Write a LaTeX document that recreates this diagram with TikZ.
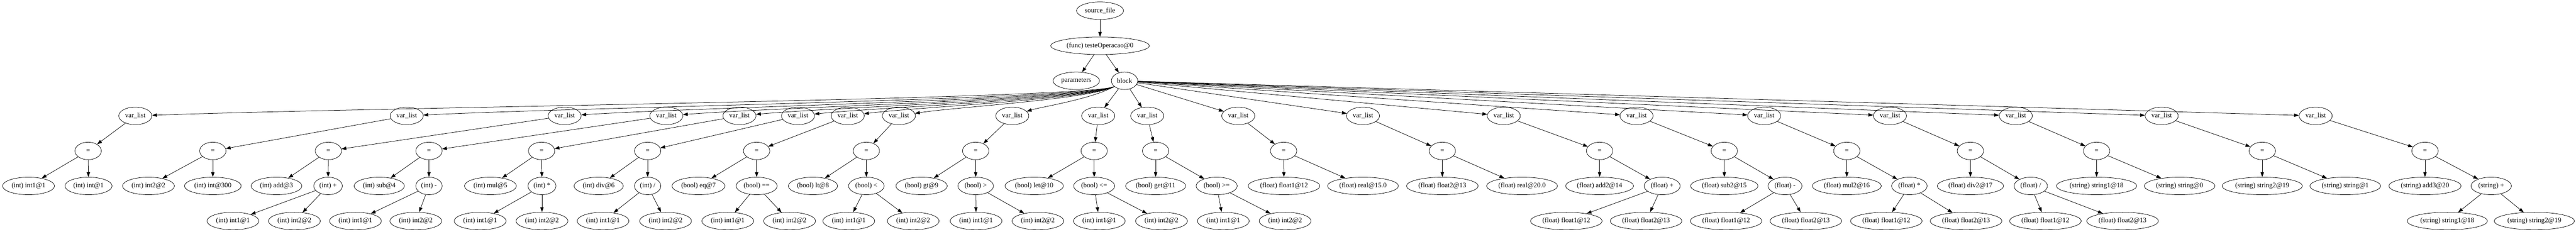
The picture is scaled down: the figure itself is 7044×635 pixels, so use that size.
\documentclass[tikz,border=0pt]{standalone}
\usepackage{fontspec}
\setmainfont{Liberation Serif}
\usetikzlibrary{calc, shapes, arrows.meta}

\begin{document}
\begin{tikzpicture}[x=0.75pt, y=-0.75pt]
	\tikzset{ast/.style={draw, ellipse, line width=0.8pt, minimum width=54pt, minimum height=36pt,
			inner xsep=3pt, inner ysep=2pt, font=\fontsize{14}{16}\selectfont}}
	\tikzset{edge/.style={draw, line width=0.8pt, -{Triangle[length=10pt,width=7pt]}}}
	\useasboundingbox (0,0) rectangle (7044,635);

	% top of the tree
	\node[ast] (src) at (3008,29.3) {source\_file};
	\node[ast] (func) at (3008,125.3) {(func) testeOperacao@0};
	\node[ast] (params) at (2943,221.3) {parameters};
	\node[ast] (block) at (3075,221.3) {block};
	\draw[edge] (src) -- (func);
	\draw[edge] (func) -- (params);
	\draw[edge] (func) -- (block);

	% one var_list and one = for every declaration
	\foreach \x [count=\i] in {370,1112,1544,1822,2022,2182,2318,2458,2768,3003,3137,3386,3727,4112,4475,4824,5168,5512,5911,6332}
		\node[ast] (vl\i) at (\x,317.3) {var\_list};
	\foreach \x [count=\i] in {241,582,898,1173,1481,1771,2069,2369,2668,2992,3160,3510,3944,4374,4715,5050,5388,5733,6186,6631}
		\node[ast] (as\i) at (\x,413.3) {=};

	% left and right side of =
	\node[ast] (v1) at (78,509.3) {(int) int1@1};
	\node[ast] (e1) at (242,509.3) {(int) int@1};
	\node[ast] (v2) at (406,509.3) {(int) int2@2};
	\node[ast] (e2) at (582,509.3) {(int) int@300};
	\node[ast] (v3) at (756,509.3) {(int) add@3};
	\node[ast] (e3) at (897,509.3) {(int) +};
	\node[ast] (v4) at (1037,509.3) {(int) sub@4};
	\node[ast] (e4) at (1173,509.3) {(int) -};
	\node[ast] (v5) at (1341,509.3) {(int) mul@5};
	\node[ast] (e5) at (1482,509.3) {(int) *};
	\node[ast] (v6) at (1637,509.3) {(int) div@6};
	\node[ast] (e6) at (1771,509.3) {(int) /};
	\node[ast] (v7) at (1910,509.3) {(bool) eq@7};
	\node[ast] (e7) at (2069,509.3) {(bool) ==};
	\node[ast] (v8) at (2223,509.3) {(bool) lt@8};
	\node[ast] (e8) at (2369,509.3) {(bool) <};
	\node[ast] (v9) at (2520,509.3) {(bool) gt@9};
	\node[ast] (e9) at (2668,509.3) {(bool) >};
	\node[ast] (v10) at (2828,509.3) {(bool) let@10};
	\node[ast] (e10) at (2992,509.3) {(bool) <=};
	\node[ast] (v11) at (3160,509.3) {(bool) get@11};
	\node[ast] (e11) at (3327,509.3) {(bool) >=};
	\node[ast] (v12) at (3511,509.3) {(float) float1@12};
	\node[ast] (e12) at (3727,509.3) {(float) real@15.0};
	\node[ast] (v13) at (3944,509.3) {(float) float2@13};
	\node[ast] (e13) at (4162,509.3) {(float) real@20.0};
	\node[ast] (v14) at (4374,509.3) {(float) add2@14};
	\node[ast] (e14) at (4545,509.3) {(float) +};
	\node[ast] (v15) at (4715,509.3) {(float) sub2@15};
	\node[ast] (e15) at (4881,509.3) {(float) -};
	\node[ast] (v16) at (5050,509.3) {(float) mul2@16};
	\node[ast] (e16) at (5221,509.3) {(float) *};
	\node[ast] (v17) at (5388,509.3) {(float) div2@17};
	\node[ast] (e17) at (5553,509.3) {(float) /};
	\node[ast] (v18) at (5733,509.3) {(string) string1@18};
	\node[ast] (e18) at (5960,509.3) {(string) string@0};
	\node[ast] (v19) at (6186,509.3) {(string) string2@19};
	\node[ast] (e19) at (6413,509.3) {(string) string@1};
	\node[ast] (v20) at (6631,509.3) {(string) add3@20};
	\node[ast] (e20) at (6812,509.3) {(string) +};

	% operands
	\node[ast] (a3) at (637,605.3) {(int) int1@1};
	\node[ast] (b3) at (805,605.3) {(int) int2@2};
	\node[ast] (a4) at (972,605.3) {(int) int1@1};
	\node[ast] (b4) at (1137,605.3) {(int) int2@2};
	\node[ast] (a5) at (1313,605.3) {(int) int1@1};
	\node[ast] (b5) at (1482,605.3) {(int) int2@2};
	\node[ast] (a6) at (1649,605.3) {(int) int1@1};
	\node[ast] (b6) at (1820,605.3) {(int) int2@2};
	\node[ast] (a7) at (1990,605.3) {(int) int1@1};
	\node[ast] (b7) at (2159,605.3) {(int) int2@2};
	\node[ast] (a8) at (2321,605.3) {(int) int1@1};
	\node[ast] (b8) at (2497,605.3) {(int) int2@2};
	\node[ast] (a9) at (2669,605.3) {(int) int1@1};
	\node[ast] (b9) at (2838,605.3) {(int) int2@2};
	\node[ast] (a10) at (3006,605.3) {(int) int1@1};
	\node[ast] (b10) at (3176,605.3) {(int) int2@2};
	\node[ast] (a11) at (3345,605.3) {(int) int1@1};
	\node[ast] (b11) at (3514,605.3) {(int) int2@2};
	\node[ast] (a14) at (4283,605.3) {(float) float1@12};
	\node[ast] (b14) at (4501,605.3) {(float) float2@13};
	\node[ast] (a15) at (4720,605.3) {(float) float1@12};
	\node[ast] (b15) at (4938,605.3) {(float) float2@13};
	\node[ast] (a16) at (5158,605.3) {(float) float1@12};
	\node[ast] (b16) at (5376,605.3) {(float) float2@13};
	\node[ast] (a17) at (5593,605.3) {(float) float1@12};
	\node[ast] (b17) at (5804,605.3) {(float) float2@13};
	\node[ast] (a20) at (6692,605.3) {(string) string1@18};
	\node[ast] (b20) at (6930,605.3) {(string) string2@19};

	% block fans out; the left ones bend under parameters
	\foreach \i in {1,...,9}
		\draw[edge] (block) .. controls ($(block)+(-90,50)$) and ($(vl\i)!0.25!(block)$) .. (vl\i);
	\foreach \i in {10,...,20}
		\draw[edge] (block) -- (vl\i);
	\foreach \i in {1,...,20} {
		\draw[edge] (vl\i) -- (as\i);
		\draw[edge] (as\i) -- (v\i);
		\draw[edge] (as\i) -- (e\i);
	}
	\foreach \i in {3,4,5,6,7,8,9,10,11,14,15,16,17,20} {
		\draw[edge] (e\i) -- (a\i);
		\draw[edge] (e\i) -- (b\i);
	}
\end{tikzpicture}
\end{document}
